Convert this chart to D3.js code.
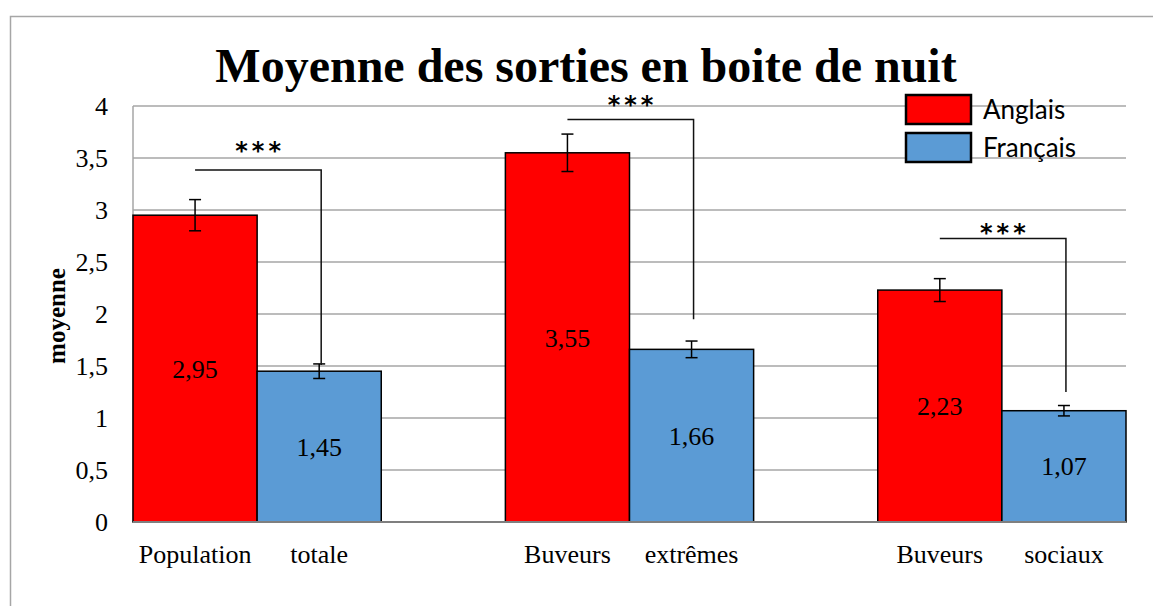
<!DOCTYPE html>
<html>
<head>
<meta charset="utf-8">
<script src="https://cdn.jsdelivr.net/npm/d3@7"></script>
<style>
  html, body { margin: 0; padding: 0; background: #fff; }
  svg { display: block; }
</style>
</head>
<body>
<svg id="chart" width="1153" height="606"></svg>
<script>
// ---- data ----
const categories = ["Population totale", "Buveurs extrêmes", "Buveurs sociaux"];
const barLabels = [["Population", "totale"], ["Buveurs", "extrêmes"], ["Buveurs", "sociaux"]];
const seriesNames = ["Anglais", "Français"];
const anglais = [2.95, 3.55, 2.23];
const francais = [1.45, 1.66, 1.07];
const anglaisErr = [0.15, 0.18, 0.11];
const francaisErr = [0.07, 0.08, 0.05];
const yTicks = [0, 0.5, 1, 1.5, 2, 2.5, 3, 3.5, 4];
const yTickLabels = ["0", "0,5", "1", "1,5", "2", "2,5", "3", "3,5", "4"];
// significance brackets (value levels)
const sigTop = [3.385, 3.87, 2.725];
const sigBottom = [1.51, 1.95, 1.25];
const sigStarLevel = [3.50, 3.94, 2.716];
const sigLabel = ["***", "***", "***"];

const colors = { "Anglais": "#FF0000", "Français": "#5B9BD5" };
const serif = "'Liberation Serif', 'Times New Roman', serif";

const svg = d3.select("#chart");

// outer frame
svg.append("rect")
  .attr("x", 10.5).attr("y", 16.5)
  .attr("width", 1160).attr("height", 620)
  .attr("fill", "none").attr("stroke", "#a6a6a6").attr("stroke-width", 1.5);

const plotL = 133, plotR = 1126, plotT = 106, plotB = 522;

const x0 = d3.scaleBand().domain(categories).range([plotL, plotR]).paddingInner(1 / 3).paddingOuter(0);
const x1 = d3.scaleBand().domain(seriesNames).range([0, x0.bandwidth()]).padding(0);
const y = d3.scaleLinear().domain([0, 4]).range([plotB, plotT]);

// gridlines
svg.append("g").selectAll("line").data(yTicks.filter(d => d > 0)).join("line")
  .attr("x1", plotL).attr("x2", plotR)
  .attr("y1", d => y(d)).attr("y2", d => y(d))
  .attr("stroke", "#a6a6a6").attr("stroke-width", 1.5);

// left axis line
svg.append("line").attr("x1", plotL).attr("x2", plotL).attr("y1", plotT).attr("y2", plotB)
  .attr("stroke", "#a6a6a6").attr("stroke-width", 1.5);

// y axis labels
const yAxis = d3.axisLeft(y).tickValues(yTicks)
  .tickFormat((d, i) => yTickLabels[i]).tickSize(0).tickPadding(25);
const gy = svg.append("g").attr("transform", `translate(${plotL},0)`).call(yAxis);
gy.select(".domain").remove();
gy.selectAll("text").attr("font-family", serif).attr("font-size", 26).attr("fill", "#000");

// rows
const rows = categories.map((c, i) => ({
  cat: c, i,
  vals: [
    { s: "Anglais", v: anglais[i], e: anglaisErr[i], lab: barLabels[i][0] },
    { s: "Français", v: francais[i], e: francaisErr[i], lab: barLabels[i][1] }
  ]
}));

const groups = svg.append("g").selectAll("g").data(rows).join("g")
  .attr("transform", d => `translate(${x0(d.cat)},0)`);

groups.selectAll("rect").data(d => d.vals).join("rect")
  .attr("x", d => x1(d.s)).attr("width", x1.bandwidth())
  .attr("y", d => y(d.v)).attr("height", d => y(0) - y(d.v))
  .attr("fill", d => colors[d.s]).attr("stroke", "#000").attr("stroke-width", 1.5);

// value labels
groups.selectAll("text.val").data(d => d.vals).join("text").attr("class", "val")
  .attr("x", d => x1(d.s) + x1.bandwidth() / 2)
  .attr("y", d => (y(d.v) + y(0)) / 2).attr("dy", "0.35em")
  .attr("text-anchor", "middle").attr("font-family", serif).attr("font-size", 26)
  .text(d => d3.format(".2f")(d.v).replace(".", ","));

// error bars
const eb = groups.selectAll("g.err").data(d => d.vals).join("g").attr("class", "err")
  .attr("stroke", "#000").attr("stroke-width", 1.5);
eb.append("line")
  .attr("x1", d => x1(d.s) + x1.bandwidth() / 2).attr("x2", d => x1(d.s) + x1.bandwidth() / 2)
  .attr("y1", d => y(d.v + d.e)).attr("y2", d => y(d.v - d.e));
eb.append("line")
  .attr("x1", d => x1(d.s) + x1.bandwidth() / 2 - 6).attr("x2", d => x1(d.s) + x1.bandwidth() / 2 + 6)
  .attr("y1", d => y(d.v + d.e)).attr("y2", d => y(d.v + d.e));
eb.append("line")
  .attr("x1", d => x1(d.s) + x1.bandwidth() / 2 - 6).attr("x2", d => x1(d.s) + x1.bandwidth() / 2 + 6)
  .attr("y1", d => y(d.v - d.e)).attr("y2", d => y(d.v - d.e));

// bottom axis line
svg.append("line").attr("x1", plotL).attr("x2", plotR).attr("y1", plotB).attr("y2", plotB)
  .attr("stroke", "#7f7f7f").attr("stroke-width", 2);

// category labels (one word under each bar)
groups.selectAll("text.cat").data(d => d.vals).join("text").attr("class", "cat")
  .attr("x", d => x1(d.s) + x1.bandwidth() / 2)
  .attr("y", 563)
  .attr("text-anchor", "middle").attr("font-family", serif).attr("font-size", 26)
  .text(d => d.lab);

// significance brackets
groups.each(function (d) {
  const g = d3.select(this);
  const i = d.i;
  const xl = x1("Anglais") + x1.bandwidth() / 2;
  const xr = x1("Français") + x1.bandwidth() / 2 + 2;
  g.append("path")
    .attr("d", `M${xl},${y(sigTop[i])}H${xr}V${y(sigBottom[i])}`)
    .attr("fill", "none").attr("stroke", "#111").attr("stroke-width", 1.5);
  g.append("text")
    .attr("x", (xl + xr) / 2 + 2).attr("y", y(sigStarLevel[i]) + 1)
    .attr("text-anchor", "middle").attr("font-family", "'DejaVu Sans', sans-serif")
    .attr("font-weight", "bold").attr("font-size", 24)
    .attr("letter-spacing", 4)
    .text(sigLabel[i]);
});

// title
svg.append("text").attr("x", 586).attr("y", 82).attr("text-anchor", "middle")
  .attr("font-family", serif).attr("font-weight", "bold").attr("font-size", 48)
  .text("Moyenne des sorties en boite de nuit");

// y title
svg.append("text").attr("transform", "translate(65,316) rotate(-90)")
  .attr("text-anchor", "middle").attr("font-family", serif).attr("font-weight", "bold").attr("font-size", 25)
  .text("moyenne");

// legend
const legend = svg.append("g").selectAll("g").data(seriesNames).join("g")
  .attr("transform", (d, i) => `translate(906,${95 + i * 38})`);
legend.append("rect").attr("width", 65).attr("height", 29)
  .attr("fill", d => colors[d]).attr("stroke", "#000").attr("stroke-width", 2.5);
legend.append("text").attr("x", 77).attr("y", 24)
  .attr("font-family", "Lato, 'Open Sans', sans-serif").attr("font-size", 26)
  .text(d => d);
</script>
</body>
</html>
